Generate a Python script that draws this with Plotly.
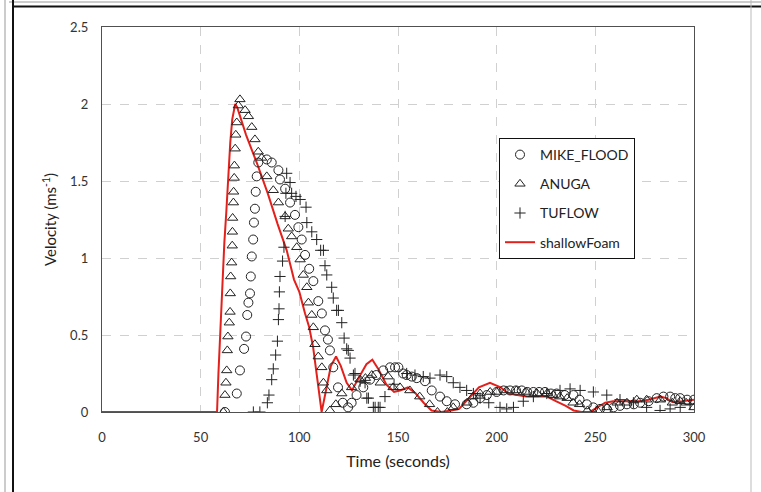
import plotly.graph_objects as go

# ---------------- data ----------------
foam_t = [0, 58.3, 59, 60, 61, 62, 63, 64, 65, 66, 67.5, 68.5, 73, 78.4, 84, 89, 93.6, 97.3, 100, 102.9, 105, 107, 109, 111.3,
          113.5, 116, 118.6, 121, 124, 126.7, 130, 134, 137, 140, 144, 148, 151, 155, 159, 163, 167, 172, 177, 181, 186, 191,
          196.6, 202, 206, 210, 215, 220, 225.5, 230, 235, 239, 243, 247, 251, 255, 259, 265, 272, 277, 283, 286, 289, 294, 300]
foam_v = [0, 0, 0.25, 0.55, 0.9, 1.1, 1.3, 1.55, 1.75, 1.9, 2.0, 1.98, 1.8, 1.62, 1.42, 1.22, 1.05, 0.86, 0.78, 0.64, 0.55, 0.42, 0.24, 0.0,
          0.14, 0.3, 0.36, 0.3, 0.19, 0.14, 0.22, 0.31, 0.34, 0.28, 0.18, 0.13, 0.14, 0.16, 0.12, 0.06, 0.01, 0.0, 0.01, 0.02, 0.09, 0.16,
          0.19, 0.16, 0.12, 0.11, 0.1, 0.1, 0.1, 0.07, 0.04, 0.01, 0.0, 0.0, 0.03, 0.06, 0.07, 0.07, 0.07, 0.08, 0.1, 0.09, 0.065, 0.07, 0.08]

mike_t = [62.3, 68.3, 69.9, 72.0, 73.0, 73.6, 74.2, 75.0, 75.4, 75.9, 76.6, 77.0, 77.5, 77.9, 78.4, 79.2, 83.5, 86.0, 89.4, 90.2,
          92.8, 95.3, 97.8, 99.5, 101.2, 102.9, 105.0, 107.1, 109.6, 111.4, 113.0, 114.5, 115.5, 117.2, 119.6, 122.0, 124.7,
          126.5, 129.0, 132.4, 135.8, 139.0, 142.5, 146.0, 148.5, 150.2, 152.6, 154.4, 157.0, 159.5, 163.7, 167.1, 171.3, 174.7,
          178.9, 184.8, 188.2, 191.6, 195.0, 200.0, 203.5, 206.8, 209.8, 212.7, 215.5, 218.6, 221.5, 224.5, 227.5, 230.4, 234.5,
          238.9, 242.0, 245.7, 249.0, 252.4, 255.8, 259.2, 262.5, 266.0, 269.5, 272.7, 277.0, 281.1, 284.5, 287.9, 290.5, 293.0,
          296.5, 300.0]
mike_v = [0.0, 0.12, 0.27, 0.41, 0.49, 0.63, 0.71, 0.77, 0.88, 1.01, 1.12, 1.23, 1.32, 1.43, 1.53, 1.62, 1.64, 1.62, 1.57, 1.51,
          1.45, 1.36, 1.28, 1.20, 1.12, 1.02, 0.93, 0.85, 0.72, 0.64, 0.53, 0.47, 0.40, 0.29, 0.16, 0.06, 0.03,
          0.06, 0.11, 0.16, 0.21, 0.24, 0.27, 0.29, 0.29, 0.29, 0.25, 0.24, 0.23, 0.22, 0.20, 0.14, 0.10, 0.07,
          0.05, 0.05, 0.06, 0.09, 0.11, 0.13, 0.14, 0.14, 0.14, 0.14, 0.13, 0.13, 0.13, 0.13, 0.12, 0.12, 0.11,
          0.11, 0.08, 0.05, 0.03, 0.02, 0.02, 0.03, 0.04, 0.05, 0.05, 0.06, 0.07, 0.09, 0.10, 0.10, 0.09, 0.09,
          0.08, 0.08]

anuga_t = [61.5, 62.3, 62.8, 63.2, 63.5, 63.8, 64.5, 64.9, 65.0, 65.2, 65.7, 66.0, 66.1, 66.2, 66.6, 66.7, 67.0, 67.1, 67.5, 67.8,
           68.3, 69.1, 69.9, 72.5, 74.2, 75.9, 77.5, 79.2, 80.9, 83.5, 86.8, 89.4, 92.8, 94.4, 96.1, 98.7, 100.4, 102.0, 103.8,
           104.6, 106.3, 107.1, 107.9, 109.6, 111.4, 112.2, 113.9, 115.5, 118.5, 121.5, 126.5, 130.8, 133.5, 136.7, 141.0, 145.0,
           147.5, 151.0, 156.0, 161.0, 166.0, 170.0, 175.0, 178.0, 185.0, 188.0, 191.6, 196.7, 200.0, 205.0, 210.0, 215.0, 220.5,
           225.5, 228.6, 232.0, 235.7, 238.7, 242.0, 246.0, 251.0, 256.0, 261.0, 266.0, 271.0, 276.0, 283.0, 289.0, 293.0, 296.0,
           300.0]
anuga_v = [0.0, 0.11, 0.19, 0.27, 0.40, 0.49, 0.58, 0.65, 0.77, 0.88, 0.97, 1.08, 1.17, 1.26, 1.36, 1.43, 1.52, 1.60, 1.71, 1.80,
           1.88, 1.99, 2.03, 1.96, 1.92, 1.85, 1.77, 1.69, 1.65, 1.53, 1.44, 1.36, 1.27, 1.19, 1.14, 1.07, 0.99, 0.89, 0.81,
           0.71, 0.63, 0.55, 0.44, 0.36, 0.29, 0.19, 0.14, 0.01, 0.05, 0.12, 0.16, 0.21, 0.22, 0.24, 0.19, 0.23,
           0.16, 0.16, 0.14, 0.10, 0.05, 0.0, 0.0, 0.03, 0.06, 0.10, 0.12, 0.13, 0.13, 0.14, 0.14, 0.13, 0.12,
           0.12, 0.11, 0.10, 0.09, 0.06, 0.05, 0.01, 0.01, 0.03, 0.06, 0.06, 0.08, 0.08, 0.08, 0.06, 0.07, 0.06,
           0.03]

tuflow_t = [76.7, 80.0, 83.8, 84.6, 86.0, 86.8, 88.0, 88.9, 89.4, 89.7, 89.9, 90.2, 91.5, 92.2, 92.8, 93.2, 93.6, 95.3, 96.1,
            98.3, 100.4, 103.4, 103.8, 106.3, 108.8, 110.8, 112.2, 113.0, 113.9, 116.4, 117.2, 118.9, 119.8, 121.5, 122.7,
            124.0, 124.8, 125.7, 127.4, 128.2, 130.8, 133.3, 134.2, 135.0, 137.5, 138.4, 140.0, 140.9, 143.4, 148.0, 154.4,
            158.6, 162.8, 166.2, 171.3, 174.7, 178.0, 181.4, 184.8, 188.2, 191.6, 196.0, 201.7, 205.1, 208.5, 213.5, 218.6,
            225.4, 232.1, 237.2, 242.3, 249.0, 255.8, 262.5, 269.3, 276.0, 282.8, 287.9, 293.0, 298.0]
tuflow_v = [0.0, 0.0, 0.06, 0.11, 0.21, 0.28, 0.37, 0.46, 0.60, 0.67, 0.78, 0.88, 0.98, 1.07, 1.27, 1.42, 1.55, 1.49, 1.42,
            1.40, 1.38, 1.33, 1.23, 1.17, 1.12, 1.05, 1.05, 0.95, 0.89, 0.81, 0.74, 0.66, 0.66, 0.58, 0.48,
            0.41, 0.40, 0.35, 0.24, 0.25, 0.20, 0.19, 0.09, 0.09, 0.03, 0.03, 0.03, 0.03, 0.10, 0.18, 0.25,
            0.24, 0.23, 0.22, 0.24, 0.23, 0.19, 0.16, 0.14, 0.12, 0.09, 0.06, 0.03, 0.02, 0.03, 0.07, 0.10,
            0.12, 0.14, 0.15, 0.14, 0.13, 0.11, 0.08, 0.06, 0.03, 0.01, 0.02, 0.03, 0.05]

x_ticks = [0, 50, 100, 150, 200, 250, 300]
y_ticks = [0, 0.5, 1, 1.5, 2, 2.5]
y_tick_text = ["0", "0.5", "1", "1.5", "2", "2.5"]

# ---------------- layout geometry ----------------
W, H = 761, 492
L, R, T, B = 102, 67, 27, 80
PW, PH = W - L - R, H - T - B


def px(x):
    return (x - L) / PW


def py(y):
    return (H - B - y) / PH


FONT = "Lato, 'Open Sans', sans-serif"
mk_col = "#222222"

fig = go.Figure()
fig.add_trace(go.Scatter(x=foam_t, y=foam_v, mode="lines", name="shallowFoam",
                         line=dict(color="#e3211c", width=2), legendrank=4, legendgroup="d"))
fig.add_trace(go.Scatter(x=mike_t, y=mike_v, mode="markers", name="MIKE_FLOOD",
                         marker=dict(symbol="circle-open", size=9, color=mk_col, line=dict(width=1)),
                         legendrank=1, legendgroup="a"))
fig.add_trace(go.Scatter(x=anuga_t, y=anuga_v, mode="markers", name="ANUGA",
                         marker=dict(symbol="triangle-up-open", size=9, color=mk_col, line=dict(width=1)),
                         legendrank=2, legendgroup="b"))
fig.add_trace(go.Scatter(x=tuflow_t, y=tuflow_v, mode="markers", name="TUFLOW",
                         marker=dict(symbol="cross-thin-open", size=8, color=mk_col, line=dict(width=1)),
                         legendrank=3, legendgroup="c"))

axis_common = dict(showgrid=True, gridcolor="#d0d0d0", griddash="dash", gridwidth=1,
                   zeroline=False, showline=True, linecolor="#505050", linewidth=1.3, mirror=True,
                   ticks="", tickfont=dict(family=FONT, size=13, color="#333333"))

fig.update_xaxes(range=[0, 300], tickvals=x_ticks, ticktext=[str(v) for v in x_ticks],
                 ticklabelstandoff=13,
                 title=dict(text="Time (seconds)", font=dict(family=FONT, size=16, color="#222"), standoff=12),
                 **axis_common)
fig.update_yaxes(range=[0, 2.5], tickvals=y_ticks, ticktext=y_tick_text,
                 ticklabelstandoff=10,
                 title=dict(text="Velocity (ms<sup>-1</sup>)", font=dict(family=FONT, size=15, color="#222"), standoff=9),
                 **axis_common)

shapes = [
    dict(type="line", xref="paper", yref="paper", x0=px(13), x1=px(761), y0=py(6.5), y1=py(6.5),
         line=dict(color="#111", width=2)),
    dict(type="line", xref="paper", yref="paper", x0=px(9), x1=px(761), y0=py(2), y1=py(2),
         line=dict(color="#999", width=1)),
    dict(type="line", xref="paper", yref="paper", x0=px(13), x1=px(13), y0=py(0), y1=py(492),
         line=dict(color="#111", width=2)),
    dict(type="line", xref="paper", yref="paper", x0=px(5), x1=px(5), y0=py(0), y1=py(492),
         line=dict(color="#999", width=1)),
    dict(type="line", xref="paper", yref="paper", x0=px(751), x1=px(751), y0=py(0), y1=py(492),
         line=dict(color="#bbb", width=1)),
]

fig.update_layout(
    width=W, height=H, margin=dict(l=L, r=R, t=T, b=B),
    paper_bgcolor="white", plot_bgcolor="white",
    font=dict(family=FONT, size=12, color="#222"),
    shapes=shapes,
    legend=dict(x=px(499), y=py(138), xanchor="left", yanchor="top",
                bgcolor="white", bordercolor="#111", borderwidth=1,
                font=dict(family=FONT, size=14, color="#222"),
                traceorder="grouped", tracegroupgap=8, itemwidth=30),
    showlegend=True,
)

fig.write_html("out.html", config={"displayModeBar": False},
               post_script="document.body.style.margin='0';")
